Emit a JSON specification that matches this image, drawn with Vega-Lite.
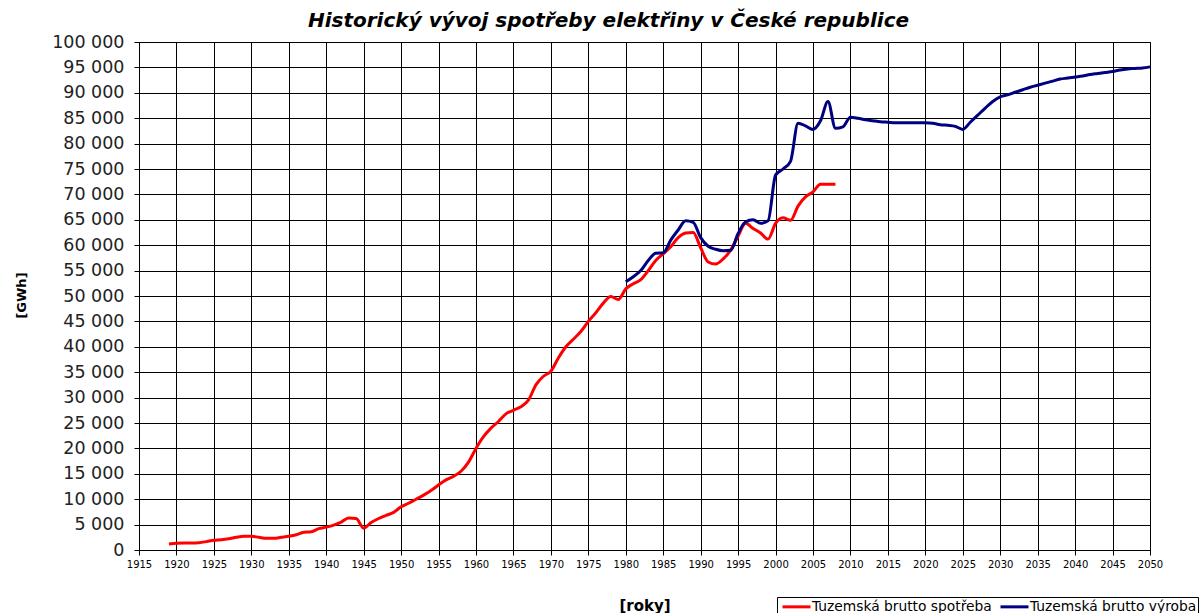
{
  "$schema": "https://vega.github.io/schema/vega-lite/v6.json",
  "width": 1011,
  "height": 508,
  "autosize": {"type": "none"},
  "padding": {"left": 139, "top": 42, "right": 53, "bottom": 63},
  "background": "white",
  "title": {
    "text": "Historický vývoj spotřeby elektřiny v České republice",
    "font": "DejaVu Sans",
    "fontSize": 20,
    "fontWeight": "bold",
    "fontStyle": "italic",
    "color": "#000",
    "anchor": "middle",
    "dx": -36,
    "offset": 2
  },
  "config": {
    "locale": {"number": {"decimal": ",", "thousands": " ", "grouping": [3], "currency": ["", ""]}},
    "view": {"stroke": "#000", "strokeWidth": 1},
    "font": "DejaVu Sans"
  },
  "data": {
    "values": [
      {"rok": 1919, "serie": "Tuzemská brutto spotřeba", "GWh": 1200},
      {"rok": 1920, "serie": "Tuzemská brutto spotřeba", "GWh": 1350},
      {"rok": 1921, "serie": "Tuzemská brutto spotřeba", "GWh": 1400},
      {"rok": 1922, "serie": "Tuzemská brutto spotřeba", "GWh": 1400},
      {"rok": 1923, "serie": "Tuzemská brutto spotřeba", "GWh": 1450},
      {"rok": 1924, "serie": "Tuzemská brutto spotřeba", "GWh": 1650},
      {"rok": 1925, "serie": "Tuzemská brutto spotřeba", "GWh": 1900},
      {"rok": 1926, "serie": "Tuzemská brutto spotřeba", "GWh": 2000},
      {"rok": 1927, "serie": "Tuzemská brutto spotřeba", "GWh": 2200},
      {"rok": 1928, "serie": "Tuzemská brutto spotřeba", "GWh": 2500},
      {"rok": 1929, "serie": "Tuzemská brutto spotřeba", "GWh": 2700},
      {"rok": 1930, "serie": "Tuzemská brutto spotřeba", "GWh": 2700},
      {"rok": 1931, "serie": "Tuzemská brutto spotřeba", "GWh": 2500},
      {"rok": 1932, "serie": "Tuzemská brutto spotřeba", "GWh": 2300},
      {"rok": 1933, "serie": "Tuzemská brutto spotřeba", "GWh": 2300},
      {"rok": 1934, "serie": "Tuzemská brutto spotřeba", "GWh": 2500},
      {"rok": 1935, "serie": "Tuzemská brutto spotřeba", "GWh": 2700},
      {"rok": 1936, "serie": "Tuzemská brutto spotřeba", "GWh": 3000},
      {"rok": 1937, "serie": "Tuzemská brutto spotřeba", "GWh": 3500},
      {"rok": 1938, "serie": "Tuzemská brutto spotřeba", "GWh": 3600},
      {"rok": 1939, "serie": "Tuzemská brutto spotřeba", "GWh": 4200},
      {"rok": 1940, "serie": "Tuzemská brutto spotřeba", "GWh": 4500},
      {"rok": 1941, "serie": "Tuzemská brutto spotřeba", "GWh": 4900},
      {"rok": 1942, "serie": "Tuzemská brutto spotřeba", "GWh": 5500},
      {"rok": 1943, "serie": "Tuzemská brutto spotřeba", "GWh": 6300},
      {"rok": 1944, "serie": "Tuzemská brutto spotřeba", "GWh": 6200},
      {"rok": 1945, "serie": "Tuzemská brutto spotřeba", "GWh": 4300},
      {"rok": 1946, "serie": "Tuzemská brutto spotřeba", "GWh": 5400},
      {"rok": 1947, "serie": "Tuzemská brutto spotřeba", "GWh": 6200},
      {"rok": 1948, "serie": "Tuzemská brutto spotřeba", "GWh": 6800},
      {"rok": 1949, "serie": "Tuzemská brutto spotřeba", "GWh": 7400},
      {"rok": 1950, "serie": "Tuzemská brutto spotřeba", "GWh": 8500},
      {"rok": 1951, "serie": "Tuzemská brutto spotřeba", "GWh": 9200},
      {"rok": 1952, "serie": "Tuzemská brutto spotřeba", "GWh": 10000},
      {"rok": 1953, "serie": "Tuzemská brutto spotřeba", "GWh": 10800},
      {"rok": 1954, "serie": "Tuzemská brutto spotřeba", "GWh": 11700},
      {"rok": 1955, "serie": "Tuzemská brutto spotřeba", "GWh": 12800},
      {"rok": 1956, "serie": "Tuzemská brutto spotřeba", "GWh": 13800},
      {"rok": 1957, "serie": "Tuzemská brutto spotřeba", "GWh": 14500},
      {"rok": 1958, "serie": "Tuzemská brutto spotřeba", "GWh": 15500},
      {"rok": 1959, "serie": "Tuzemská brutto spotřeba", "GWh": 17300},
      {"rok": 1960, "serie": "Tuzemská brutto spotřeba", "GWh": 20000},
      {"rok": 1961, "serie": "Tuzemská brutto spotřeba", "GWh": 22300},
      {"rok": 1962, "serie": "Tuzemská brutto spotřeba", "GWh": 24000},
      {"rok": 1963, "serie": "Tuzemská brutto spotřeba", "GWh": 25300},
      {"rok": 1964, "serie": "Tuzemská brutto spotřeba", "GWh": 26800},
      {"rok": 1965, "serie": "Tuzemská brutto spotřeba", "GWh": 27500},
      {"rok": 1966, "serie": "Tuzemská brutto spotřeba", "GWh": 28200},
      {"rok": 1967, "serie": "Tuzemská brutto spotřeba", "GWh": 29500},
      {"rok": 1968, "serie": "Tuzemská brutto spotřeba", "GWh": 32500},
      {"rok": 1969, "serie": "Tuzemská brutto spotřeba", "GWh": 34200},
      {"rok": 1970, "serie": "Tuzemská brutto spotřeba", "GWh": 35200},
      {"rok": 1971, "serie": "Tuzemská brutto spotřeba", "GWh": 37800},
      {"rok": 1972, "serie": "Tuzemská brutto spotřeba", "GWh": 40000},
      {"rok": 1973, "serie": "Tuzemská brutto spotřeba", "GWh": 41500},
      {"rok": 1974, "serie": "Tuzemská brutto spotřeba", "GWh": 43000},
      {"rok": 1975, "serie": "Tuzemská brutto spotřeba", "GWh": 45000},
      {"rok": 1976, "serie": "Tuzemská brutto spotřeba", "GWh": 46700},
      {"rok": 1977, "serie": "Tuzemská brutto spotřeba", "GWh": 48600},
      {"rok": 1978, "serie": "Tuzemská brutto spotřeba", "GWh": 49900},
      {"rok": 1979, "serie": "Tuzemská brutto spotřeba", "GWh": 49300},
      {"rok": 1980, "serie": "Tuzemská brutto spotřeba", "GWh": 51400},
      {"rok": 1981, "serie": "Tuzemská brutto spotřeba", "GWh": 52400},
      {"rok": 1982, "serie": "Tuzemská brutto spotřeba", "GWh": 53200},
      {"rok": 1983, "serie": "Tuzemská brutto spotřeba", "GWh": 55000},
      {"rok": 1984, "serie": "Tuzemská brutto spotřeba", "GWh": 57000},
      {"rok": 1985, "serie": "Tuzemská brutto spotřeba", "GWh": 58300},
      {"rok": 1986, "serie": "Tuzemská brutto spotřeba", "GWh": 59700},
      {"rok": 1987, "serie": "Tuzemská brutto spotřeba", "GWh": 61500},
      {"rok": 1988, "serie": "Tuzemská brutto spotřeba", "GWh": 62400},
      {"rok": 1989, "serie": "Tuzemská brutto spotřeba", "GWh": 62500},
      {"rok": 1990, "serie": "Tuzemská brutto spotřeba", "GWh": 59500},
      {"rok": 1991, "serie": "Tuzemská brutto spotřeba", "GWh": 56700},
      {"rok": 1992, "serie": "Tuzemská brutto spotřeba", "GWh": 56300},
      {"rok": 1993, "serie": "Tuzemská brutto spotřeba", "GWh": 57300},
      {"rok": 1994, "serie": "Tuzemská brutto spotřeba", "GWh": 59000},
      {"rok": 1995, "serie": "Tuzemská brutto spotřeba", "GWh": 61800},
      {"rok": 1996, "serie": "Tuzemská brutto spotřeba", "GWh": 64300},
      {"rok": 1997, "serie": "Tuzemská brutto spotřeba", "GWh": 63300},
      {"rok": 1998, "serie": "Tuzemská brutto spotřeba", "GWh": 62400},
      {"rok": 1999, "serie": "Tuzemská brutto spotřeba", "GWh": 61200},
      {"rok": 2000, "serie": "Tuzemská brutto spotřeba", "GWh": 64300},
      {"rok": 2001, "serie": "Tuzemská brutto spotřeba", "GWh": 65400},
      {"rok": 2002, "serie": "Tuzemská brutto spotřeba", "GWh": 64900},
      {"rok": 2003, "serie": "Tuzemská brutto spotřeba", "GWh": 67700},
      {"rok": 2004, "serie": "Tuzemská brutto spotřeba", "GWh": 69500},
      {"rok": 2005, "serie": "Tuzemská brutto spotřeba", "GWh": 70500},
      {"rok": 2006, "serie": "Tuzemská brutto spotřeba", "GWh": 72000},
      {"rok": 2007, "serie": "Tuzemská brutto spotřeba", "GWh": 72000},
      {"rok": 2008, "serie": "Tuzemská brutto spotřeba", "GWh": 72000},
      {"rok": 1980, "serie": "Tuzemská brutto výroba", "GWh": 52800},
      {"rok": 1981, "serie": "Tuzemská brutto výroba", "GWh": 53800},
      {"rok": 1982, "serie": "Tuzemská brutto výroba", "GWh": 55000},
      {"rok": 1983, "serie": "Tuzemská brutto výroba", "GWh": 57000},
      {"rok": 1984, "serie": "Tuzemská brutto výroba", "GWh": 58400},
      {"rok": 1985, "serie": "Tuzemská brutto výroba", "GWh": 58500},
      {"rok": 1986, "serie": "Tuzemská brutto výroba", "GWh": 61000},
      {"rok": 1987, "serie": "Tuzemská brutto výroba", "GWh": 63000},
      {"rok": 1988, "serie": "Tuzemská brutto výroba", "GWh": 64800},
      {"rok": 1989, "serie": "Tuzemská brutto výroba", "GWh": 64500},
      {"rok": 1990, "serie": "Tuzemská brutto výroba", "GWh": 61500},
      {"rok": 1991, "serie": "Tuzemská brutto výroba", "GWh": 59800},
      {"rok": 1992, "serie": "Tuzemská brutto výroba", "GWh": 59200},
      {"rok": 1993, "serie": "Tuzemská brutto výroba", "GWh": 58900},
      {"rok": 1994, "serie": "Tuzemská brutto výroba", "GWh": 59000},
      {"rok": 1995, "serie": "Tuzemská brutto výroba", "GWh": 62300},
      {"rok": 1996, "serie": "Tuzemská brutto výroba", "GWh": 64600},
      {"rok": 1997, "serie": "Tuzemská brutto výroba", "GWh": 65000},
      {"rok": 1998, "serie": "Tuzemská brutto výroba", "GWh": 64300},
      {"rok": 1999, "serie": "Tuzemská brutto výroba", "GWh": 64800},
      {"rok": 2000, "serie": "Tuzemská brutto výroba", "GWh": 73800},
      {"rok": 2001, "serie": "Tuzemská brutto výroba", "GWh": 75000},
      {"rok": 2002, "serie": "Tuzemská brutto výroba", "GWh": 76500},
      {"rok": 2003, "serie": "Tuzemská brutto výroba", "GWh": 84000},
      {"rok": 2004, "serie": "Tuzemská brutto výroba", "GWh": 83500},
      {"rok": 2005, "serie": "Tuzemská brutto výroba", "GWh": 82800},
      {"rok": 2006, "serie": "Tuzemská brutto výroba", "GWh": 84500},
      {"rok": 2007, "serie": "Tuzemská brutto výroba", "GWh": 88300},
      {"rok": 2008, "serie": "Tuzemská brutto výroba", "GWh": 83000},
      {"rok": 2009, "serie": "Tuzemská brutto výroba", "GWh": 83300},
      {"rok": 2010, "serie": "Tuzemská brutto výroba", "GWh": 85200},
      {"rok": 2011, "serie": "Tuzemská brutto výroba", "GWh": 85000},
      {"rok": 2012, "serie": "Tuzemská brutto výroba", "GWh": 84700},
      {"rok": 2013, "serie": "Tuzemská brutto výroba", "GWh": 84500},
      {"rok": 2014, "serie": "Tuzemská brutto výroba", "GWh": 84300},
      {"rok": 2015, "serie": "Tuzemská brutto výroba", "GWh": 84200},
      {"rok": 2016, "serie": "Tuzemská brutto výroba", "GWh": 84100},
      {"rok": 2017, "serie": "Tuzemská brutto výroba", "GWh": 84100},
      {"rok": 2018, "serie": "Tuzemská brutto výroba", "GWh": 84100},
      {"rok": 2019, "serie": "Tuzemská brutto výroba", "GWh": 84100},
      {"rok": 2020, "serie": "Tuzemská brutto výroba", "GWh": 84100},
      {"rok": 2021, "serie": "Tuzemská brutto výroba", "GWh": 84000},
      {"rok": 2022, "serie": "Tuzemská brutto výroba", "GWh": 83700},
      {"rok": 2023, "serie": "Tuzemská brutto výroba", "GWh": 83600},
      {"rok": 2024, "serie": "Tuzemská brutto výroba", "GWh": 83400},
      {"rok": 2025, "serie": "Tuzemská brutto výroba", "GWh": 82800},
      {"rok": 2026, "serie": "Tuzemská brutto výroba", "GWh": 84200},
      {"rok": 2027, "serie": "Tuzemská brutto výroba", "GWh": 85600},
      {"rok": 2028, "serie": "Tuzemská brutto výroba", "GWh": 87000},
      {"rok": 2029, "serie": "Tuzemská brutto výroba", "GWh": 88300},
      {"rok": 2030, "serie": "Tuzemská brutto výroba", "GWh": 89200},
      {"rok": 2031, "serie": "Tuzemská brutto výroba", "GWh": 89600},
      {"rok": 2032, "serie": "Tuzemská brutto výroba", "GWh": 90100},
      {"rok": 2033, "serie": "Tuzemská brutto výroba", "GWh": 90600},
      {"rok": 2034, "serie": "Tuzemská brutto výroba", "GWh": 91100},
      {"rok": 2035, "serie": "Tuzemská brutto výroba", "GWh": 91500},
      {"rok": 2036, "serie": "Tuzemská brutto výroba", "GWh": 91900},
      {"rok": 2037, "serie": "Tuzemská brutto výroba", "GWh": 92300},
      {"rok": 2038, "serie": "Tuzemská brutto výroba", "GWh": 92700},
      {"rok": 2039, "serie": "Tuzemská brutto výroba", "GWh": 92900},
      {"rok": 2040, "serie": "Tuzemská brutto výroba", "GWh": 93100},
      {"rok": 2041, "serie": "Tuzemská brutto výroba", "GWh": 93300},
      {"rok": 2042, "serie": "Tuzemská brutto výroba", "GWh": 93600},
      {"rok": 2043, "serie": "Tuzemská brutto výroba", "GWh": 93800},
      {"rok": 2044, "serie": "Tuzemská brutto výroba", "GWh": 94000},
      {"rok": 2045, "serie": "Tuzemská brutto výroba", "GWh": 94200},
      {"rok": 2046, "serie": "Tuzemská brutto výroba", "GWh": 94500},
      {"rok": 2047, "serie": "Tuzemská brutto výroba", "GWh": 94700},
      {"rok": 2048, "serie": "Tuzemská brutto výroba", "GWh": 94800},
      {"rok": 2049, "serie": "Tuzemská brutto výroba", "GWh": 94900},
      {"rok": 2050, "serie": "Tuzemská brutto výroba", "GWh": 95100}
    ]
  },
  "mark": {"type": "line", "interpolate": "monotone", "strokeWidth": 3},
  "encoding": {
    "x": {
      "field": "rok",
      "type": "quantitative",
      "scale": {"domain": [1915, 2050], "nice": false, "zero": false},
      "axis": {
        "values": [1915,1920,1925,1930,1935,1940,1945,1950,1955,1960,1965,1970,1975,1980,1985,1990,1995,2000,2005,2010,2015,2020,2025,2030,2035,2040,2045,2050],
        "format": "d",
        "title": "[roky]",
        "titleFont": "DejaVu Sans",
        "titleFontSize": 15,
        "titleFontWeight": "bold",
        "titleColor": "#000",
        "titleBaseline": "middle",
        "titleY": 55,
        "labelFont": "DejaVu Sans",
        "labelFontSize": 10,
        "labelColor": "#000",
        "labelPadding": 4,
        "labelFlush": false,
        "labelOverlap": false,
        "tickSize": 5,
        "tickColor": "#000",
        "domainColor": "#000",
        "gridColor": "#000",
        "gridOpacity": 1,
        "gridWidth": 1
      }
    },
    "y": {
      "field": "GWh",
      "type": "quantitative",
      "scale": {"domain": [0, 100000], "nice": false},
      "axis": {
        "values": [0,5000,10000,15000,20000,25000,30000,35000,40000,45000,50000,55000,60000,65000,70000,75000,80000,85000,90000,95000,100000],
        "format": ",d",
        "title": "[GWh]",
        "titleFont": "DejaVu Sans",
        "titleFontSize": 13,
        "titleFontWeight": "bold",
        "titleColor": "#000",
        "titleAngle": -90,
        "titleAlign": "center",
        "titleBaseline": "middle",
        "titleX": -118,
        "titleY": 253,
        "labelFont": "DejaVu Sans",
        "labelFontSize": 17.5,
        "labelColor": "#222",
        "labelPadding": 10,
        "labelOverlap": false,
        "tickSize": 5,
        "tickColor": "#000",
        "domainColor": "#000",
        "gridColor": "#000",
        "gridOpacity": 1,
        "gridWidth": 1
      }
    },
    "color": {
      "field": "serie",
      "type": "nominal",
      "scale": {"domain": ["Tuzemská brutto spotřeba", "Tuzemská brutto výroba"], "range": ["#FF0000", "#000080"]},
      "legend": {
        "title": null,
        "orient": "none",
        "direction": "horizontal",
        "legendX": 638,
        "legendY": 555,
        "strokeColor": "#000",
        "padding": 1,
        "symbolType": "M-1,0H3",
        "symbolSize": 196,
        "symbolStrokeWidth": 3,
        "symbolOffset": 3,
        "labelOffset": 14,
        "labelFont": "DejaVu Sans",
        "labelFontSize": 13.8,
        "labelColor": "#000",
        "labelLimit": 300,
        "columnPadding": 2
      }
    }
  }
}
